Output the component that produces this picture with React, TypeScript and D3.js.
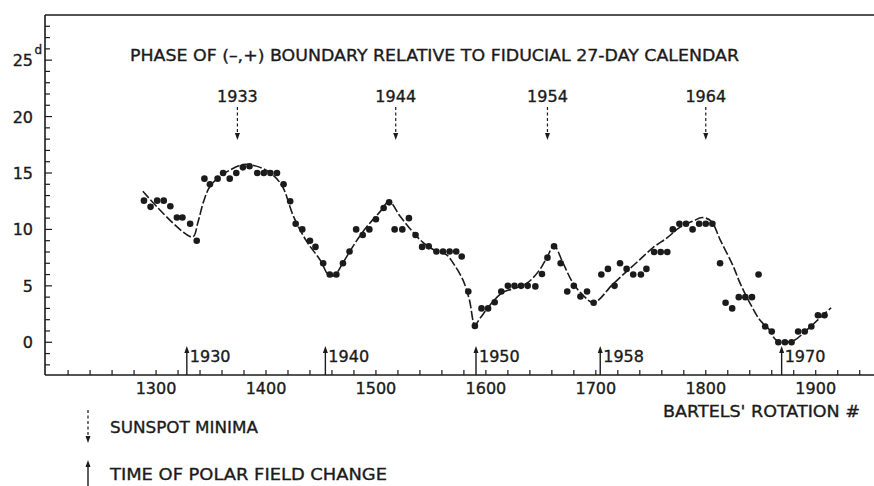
import React from "react";
import * as d3 from "d3";

// Bartels' rotation number of each plotted phase point
const rotations = [
  1289, 1295, 1301, 1307, 1313, 1319, 1324, 1331, 1337, 1344, 1349, 1356, 1361, 1367, 1373, 1379,
  1385, 1392, 1398, 1404, 1410, 1416, 1422, 1427, 1433, 1440, 1445, 1452, 1458, 1464, 1470, 1476,
  1482, 1488, 1494, 1500, 1507, 1512, 1517, 1524, 1530, 1536, 1542, 1548, 1555, 1561, 1567, 1573,
  1578, 1584, 1590, 1596, 1602, 1608, 1614, 1620, 1626, 1632, 1638, 1645, 1651, 1656, 1662, 1668,
  1674, 1680, 1686, 1692, 1698, 1705, 1711, 1717, 1722, 1728, 1734, 1741, 1746, 1753, 1759, 1765,
  1770, 1776, 1782, 1788, 1794, 1800, 1806, 1813, 1818, 1824, 1830, 1836, 1842, 1848, 1854, 1860,
  1866, 1872, 1878, 1884, 1890, 1896, 1902, 1908,
];
// phase in days
const phases = [
  12.55, 12.0, 12.55, 12.55, 12.05, 11.05, 11.05, 10.5, 9.0, 14.5, 14.0, 14.5, 15.0, 14.5, 15.0, 15.5,
  15.6, 15.0, 15.0, 15.0, 15.0, 14.0, 12.5, 10.5, 10.0, 9.0, 8.45, 7.0, 6.0, 6.0, 7.0, 8.05,
  10.0, 9.5, 10.0, 10.9, 11.9, 12.4, 10.0, 10.0, 11.0, 9.5, 8.45, 8.5, 8.05, 8.05, 8.05, 8.05,
  7.6, 4.5, 1.45, 3.0, 3.0, 3.55, 4.5, 5.0, 5.0, 5.0, 5.0, 4.95, 6.05, 7.5, 8.5, 7.0,
  4.5, 5.0, 4.05, 4.5, 3.5, 6.0, 6.5, 5.0, 7.0, 6.5, 6.0, 6.0, 6.5, 8.0, 8.0, 8.0,
  10.0, 10.5, 10.5, 10.0, 10.5, 10.5, 10.5, 7.0, 3.5, 3.0, 4.0, 4.0, 4.0, 6.0, 1.4, 0.95,
  0, 0, 0, 0.95, 0.95, 1.4, 2.4, 2.4,
];

// hand-drawn dashed fit curve
const fitRotations = [
  1288, 1333, 1338, 1343, 1349, 1358, 1367, 1379, 1385, 1397, 1406, 1415, 1425, 1437, 1449, 1458,
  1463, 1470, 1482, 1492, 1504, 1512, 1522, 1534, 1543, 1555, 1564, 1570, 1579, 1585, 1590, 1595,
  1604, 1615, 1628, 1638, 1649, 1656, 1662, 1670, 1679, 1688, 1698, 1715, 1728, 1740, 1752, 1765,
  1776, 1788, 1797, 1805, 1813, 1825, 1831, 1840, 1849, 1858, 1864, 1876, 1881, 1892, 1904, 1914,
];
const fitPhases = [
  13.38, 9.33, 10.6, 12.4, 13.8, 14.7, 15.25, 15.75, 15.75, 15.4, 14.85, 13.8, 11.16, 8.94, 7.32, 5.84,
  6.0, 7.05, 8.94, 10.27, 11.6, 12.47, 11.16, 9.72, 8.83, 8.06, 7.76, 7.05, 5.55, 3.77, 1.55, 2.17,
  3.33, 4.39, 4.84, 5.28, 6.43, 7.61, 8.56, 7.05, 5.28, 4.21, 3.5, 5.1, 6.28, 7.32, 8.39, 9.27,
  10.16, 10.72, 11.05, 10.72, 9.1, 6.73, 5.28, 3.5, 2.0, 1.1, 0.2, 0.05, 0.2, 1.1, 2.17, 3.06,
];

const minimaYears = ["1933", "1944", "1954", "1964"];
const minimaRotations = [1374, 1518, 1656, 1800];

const polarYears = ["1930", "1940", "1950", "1958", "1970"];
const polarRotations = [1328, 1454, 1591, 1704, 1869];

const yTickValues = [0, 5, 10, 15, 20, 25];
const xTickValues = [1300, 1400, 1500, 1600, 1700, 1800, 1900];

const ink = "#1b1b1b";
const font = "'DejaVu Sans', sans-serif";

export default function App() {
  const W = 874;
  const H = 486;
  const x = d3.scaleLinear().domain([1199, 1953]).range([45, 874]);
  const y = d3.scaleLinear().domain([-2.9, 29]).range([375, 15]);
  const left = x(1199);
  const bottom = y(-2.9);
  const top = y(29);

  const fit = fitRotations.map((r, i) => [r, fitPhases[i]] as [number, number]);
  const fitLine = d3
    .line<[number, number]>()
    .x((d) => x(d[0]))
    .y((d) => y(d[1]))
    .curve(d3.curveCatmullRom.alpha(0.5));

  const yMinor = d3.range(-2, 29);
  const xMinor = d3.range(1220, 1960, 20);

  // lettering is a bit heavier in the original
  const txt = { fill: ink, stroke: ink, strokeWidth: 0.35 };

  return (
    <svg width={W} height={H} style={{ display: "block", background: "#fff" }} fontFamily={font}>
      <style>{"body{margin:0}"}</style>
      <rect width={W} height={H} fill="#fff" />

      {/* frame */}
      <line x1={left} x2={W} y1={top} y2={top} stroke={ink} strokeWidth={1.6} />
      <line x1={left} x2={left} y1={top} y2={bottom} stroke={ink} strokeWidth={1.6} />
      <line x1={left} x2={W} y1={bottom} y2={bottom} stroke={ink} strokeWidth={1.6} />

      {/* y ticks */}
      {yMinor.map((v) => (
        <line
          key={"yt" + v}
          x1={left}
          x2={left + (v % 5 === 0 ? 7 : 5)}
          y1={y(v)}
          y2={y(v)}
          stroke={ink}
          strokeWidth={1.2}
        />
      ))}
      {yTickValues.map((v) => (
        <text key={"yl" + v} x={33} y={y(v) + 6} textAnchor="end" fontSize={16} {...txt}>
          {v}
        </text>
      ))}
      <text x={34.5} y={y(25) - 6} fontSize={12} {...txt}>
        d
      </text>

      {/* x ticks */}
      {xMinor.map((v) => (
        <line key={"xt" + v} x1={x(v)} x2={x(v)} y1={bottom} y2={bottom - 5} stroke={ink} strokeWidth={1.2} />
      ))}
      {xTickValues.map((v) => (
        <text key={"xl" + v} x={x(v)} y={394} textAnchor="middle" fontSize={16} {...txt}>
          {v}
        </text>
      ))}
      <text x={663} y={417} fontSize={16} {...txt} textLength={197} lengthAdjust="spacingAndGlyphs">
        BARTELS' ROTATION #
      </text>

      {/* title */}
      <text x={130} y={61} fontSize={16} {...txt} textLength={609} lengthAdjust="spacingAndGlyphs">
        PHASE OF (–,+) BOUNDARY RELATIVE TO FIDUCIAL 27-DAY CALENDAR
      </text>

      {/* sunspot minima arrows */}
      {minimaRotations.map((r, i) => (
        <g key={"min" + i}>
          <text x={x(r)} y={102} textAnchor="middle" fontSize={16} {...txt}>
            {minimaYears[i]}
          </text>
          <line x1={x(r)} x2={x(r)} y1={107} y2={134} stroke={ink} strokeWidth={1.2} strokeDasharray="3,2.5" />
          <path d={`M${x(r) - 2.5},133 L${x(r) + 2.5},133 L${x(r)},140 Z`} fill={ink} />
        </g>
      ))}

      {/* polar field change arrows */}
      {polarRotations.map((r, i) => (
        <g key={"pol" + i}>
          <line x1={x(r)} x2={x(r)} y1={bottom} y2={352} stroke={ink} strokeWidth={1.4} />
          <path d={`M${x(r) - 2.5},353 L${x(r) + 2.5},353 L${x(r)},346 Z`} fill={ink} />
          <text x={x(r) + 3} y={362} fontSize={16} {...txt}>
            {polarYears[i]}
          </text>
        </g>
      ))}

      {/* fit curve */}
      <path d={fitLine(fit) || ""} fill="none" stroke={ink} strokeWidth={1.6} strokeDasharray="9,2.5" />

      {/* data points */}
      {rotations.map((r, i) => (
        <circle key={"p" + i} cx={x(r)} cy={y(phases[i])} r={3.3} fill={ink} />
      ))}

      {/* legend */}
      <line x1={88} x2={88} y1={410} y2={437} stroke={ink} strokeWidth={1.2} strokeDasharray="3,2.5" />
      <path d="M85.5,436 L90.5,436 L88,443 Z" fill={ink} />
      <text x={110} y={433} fontSize={16} {...txt} textLength={148} lengthAdjust="spacingAndGlyphs">
        SUNSPOT MINIMA
      </text>
      <line x1={88} x2={88} y1={466} y2={H} stroke={ink} strokeWidth={1.4} />
      <path d="M85.5,467 L90.5,467 L88,460 Z" fill={ink} />
      <text x={110} y={480} fontSize={16} {...txt} textLength={277} lengthAdjust="spacingAndGlyphs">
        TIME OF POLAR FIELD CHANGE
      </text>
    </svg>
  );
}
